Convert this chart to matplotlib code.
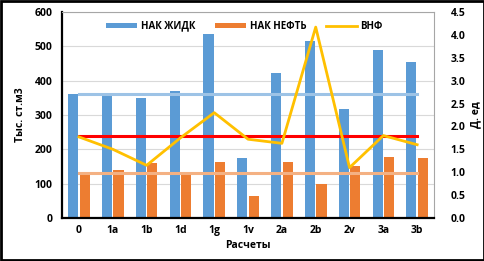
import numpy as np
import matplotlib
matplotlib.use("Agg")
import matplotlib.pyplot as plt
from matplotlib.patches import Rectangle

plt.rcParams['font.family'] = ['Open Sans', 'DejaVu Sans']
plt.rcParams['font.weight'] = 'bold'

categories = ["0", "1a", "1b", "1d", "1g", "1v", "2a", "2b", "2v", "3a", "3b"]
liquid = [360, 360, 350, 370, 537, 175, 422, 515, 317, 490, 455]
oil = [128, 140, 160, 130, 162, 65, 162, 100, 150, 178, 176]
wor = [1.77, 1.5, 1.15, 1.75, 2.3, 1.72, 1.63, 4.17, 1.1, 1.8, 1.6]
liquid_ref = 360
red_ref = 240
oil_ref = 130

fig = plt.figure(figsize=(4.85, 2.61), dpi=100)
ax = fig.add_axes([0.128, 0.165, 0.767, 0.789])
x = np.arange(len(categories))
w = 0.3

ax.bar(x - w / 2 - 0.02, liquid, w, color="#5B9BD5", label="НАК ЖИДК", zorder=2)
ax.bar(x + w / 2 + 0.02, oil, w, color="#ED7D31", label="НАК НЕФТЬ", zorder=2)
ax.plot(x, [liquid_ref] * len(x), color="#9DC3E6", lw=2.2, zorder=3)
ax.plot(x, [red_ref] * len(x), color="#FF0000", lw=2.2, zorder=3)
ax.plot(x, [oil_ref] * len(x), color="#F4B183", lw=2.2, zorder=3)

ax.set_xlim(-0.5, len(x) - 0.5)
ax.set_ylim(0, 600)
ax.set_yticks(range(0, 601, 100))
ax.set_xticks(x)
ax.set_xticklabels(categories)
ax.grid(axis="y", color="#D9D9D9", lw=0.8, zorder=0)
ax.tick_params(length=0, labelsize=7.5, pad=7)
ax.tick_params(axis="x", pad=5)
for s in ["top", "right"]:
    ax.spines[s].set_color("#A6A6A6")
for s in ["left", "bottom"]:
    ax.spines[s].set_color("black")
    ax.spines[s].set_linewidth(1.6)
ax.set_ylabel("Тыс. ст.м3", fontsize=7.5, fontweight="bold", labelpad=6)
ax.set_xlabel("Расчеты", fontsize=7.5, fontweight="bold", labelpad=3)

ax2 = ax.twinx()
ax2.plot(x, wor, color="#FFC000", lw=2, label="ВНФ", zorder=4)
ax2.set_ylim(0, 4.5)
ax2.set_yticks(np.arange(0, 4.51, 0.5))
ax2.set_yticklabels([f"{v:.1f}" for v in np.arange(0, 4.51, 0.5)])
ax2.tick_params(length=0, labelsize=7.5, pad=12)
ax2.set_ylabel("Д. ед", fontsize=7.5, fontweight="bold", labelpad=3)
for s in ax2.spines.values():
    s.set_visible(False)

h1, l1 = ax.get_legend_handles_labels()
h2, l2 = ax2.get_legend_handles_labels()
ax.legend(h1 + h2, l1 + l2, loc="upper center", bbox_to_anchor=(0.49, 1.0), ncol=3,
          frameon=False, fontsize=7, handlelength=3.2, handleheight=0.5,
          columnspacing=2.0, handletextpad=0.4)

fig.patches.append(Rectangle((0.003, 0.005), 0.994, 0.99, transform=fig.transFigure,
                             fill=False, edgecolor="black", lw=2))
fig.savefig("out.png", dpi=100)
